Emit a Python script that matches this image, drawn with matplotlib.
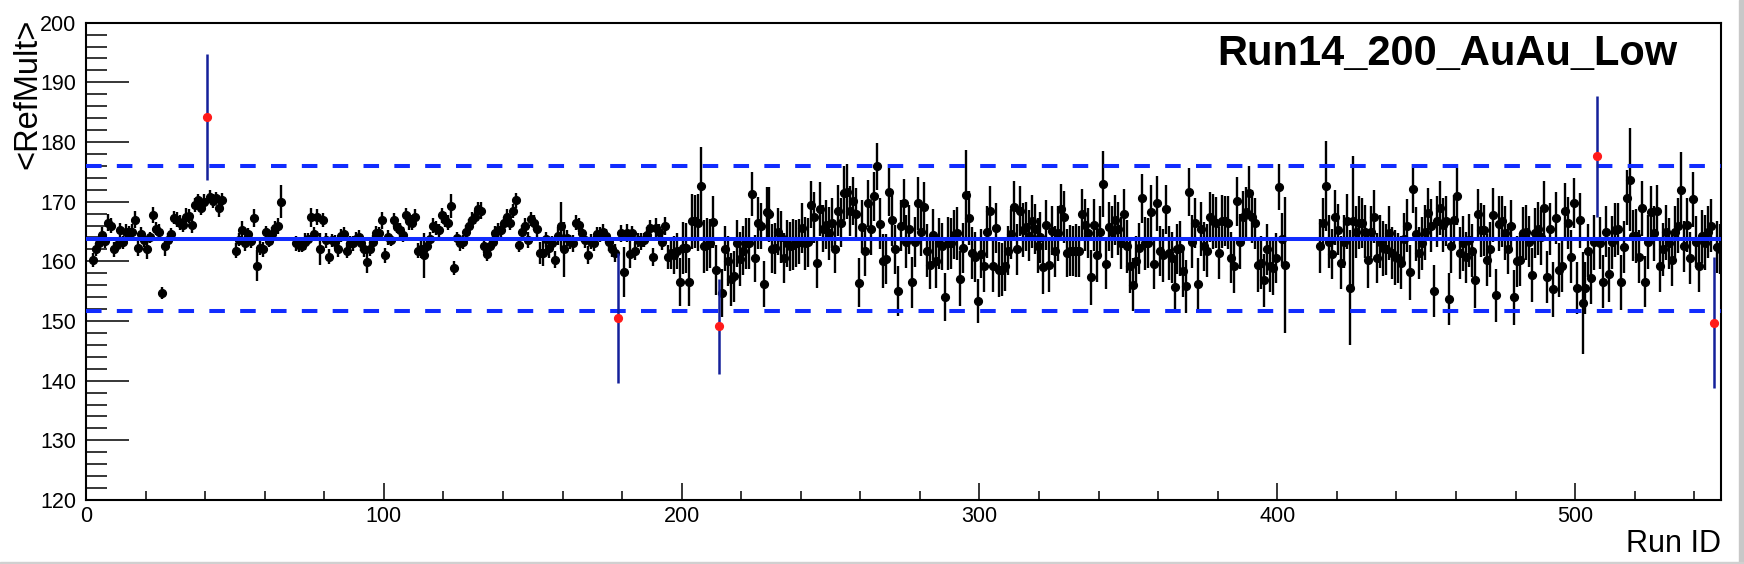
import numpy as np
import matplotlib
matplotlib.use("Agg")
import matplotlib.pyplot as plt
from matplotlib.patches import Rectangle

plt.rcParams['font.family'] = ['Liberation Sans', 'DejaVu Sans']
plt.rcParams['lines.scale_dashes'] = False

nan = float('nan')

# <RefMult> per run index (bins 0..548); nan = empty bin
ref_mult = (
    [nan, nan] +
    [160.2,162.0,163.0,164.5,163.4,166.5,166.0,162.0,162.8,165.2,
     163.2,165.0,164.9,165.0,167.0,162.2,164.6,163.5,162.0,164.0,
     167.8,165.5,165.0,154.7,162.5,163.6,164.6,167.3,167.0,166.5,
     166.1,167.5,167.6,166.1,169.4,170.2,169.0,169.9,184.2,170.8,
     170.1,170.6,169.0,170.2] +
    [nan]*4 +
    [161.8,163.6,165.3,163.0,164.6,163.4,167.2,159.3,162.2,162.0,
     164.9,163.4,164.6,165.6,165.9,170.0] +
    [nan]*4 +
    [163.0,162.8,162.6,163.3,163.7,167.4,164.6,167.4,162.1,166.9,
     163.5,160.8,163.5,163.3,162.1,164.3,164.6,161.8,163.1,163.0,
     163.8,164.1,163.0,162.1,159.9,162.1,163.3,164.7,164.7,166.9,
     161.0,164.0,163.5,166.9,165.8,165.2,164.5,167.8,166.7,166.5,
     167.4,161.8,162.0,161.0,162.6,163.7,166.0,165.6,165.2,167.7,
     167.0,166.5,169.3,158.9,163.9,163.0,163.3,164.9,166.0,167.0,
     167.4,168.8,168.5,162.6,161.3,162.5,163.3,164.7,165.2] +
    [165.3,166.4,167.5,166.5,168.4,170.2,162.7,164.9,165.9,163.6,
     167.1,166.5,165.4,161.4,161.4,163.7,162.2,163.0,160.3,164.2,
     166.0,162.0,163.9,163.3,163.0,166.5,166.1,164.7,163.6,161.0,
     163.3,163.0,164.6,164.5,165.0,164.2,163.2,162.1,161.4,150.5,
     164.7,158.2,164.7,161.3,164.7,161.8,163.6,163.3,163.6,164.5,
     165.6,160.8,165.6,165.0,163.3,166.0,160.7,161.4,161.0,161.8,
     156.5,162.2,162.2,156.5,166.7,166.7,166.5,172.7,162.5,162.8,
     163.0,166.6] +
    [158.6,149.1,154.7,162.1,160.0,157.0,157.5,163.0,160.4,161.8,
     163.0,163.0,171.3,160.5,166.4,165.9,156.2,168.3,167.9,162.1,
     162.2,165.0,164.1,160.5,163.0,162.5,162.8,163.0,163.3,165.6,
     163.0,163.2,169.5,167.4,159.7,168.8,165.5,166.1,164.7,166.5,
     162.0,168.5,166.5,171.5,171.7,168.5,170.1,168.0,156.4,165.8,
     161.8,169.7,165.5,170.9,175.9,166.3,160.1,160.4,171.6,167.0,
     162.0,155.1,166.0,169.8,163.3,165.4,156.5,163.3,169.7,164.9] +
    [169.1,161.8,159.4,164.5,160.0,163.0,162.5,154.0,163.0,163.0,
     164.5,164.7,157.1,162.2,171.1,167.3,161.4,160.8,153.3,161.3,
     159.3,164.9,168.5,159.3,165.6,158.6,158.6,159.3,161.8,164.6,
     169.1,162.0,168.5,165.2,165.8,164.3,166.7,165.4,162.6,164.0,
     159.0,166.1,159.4,165.1,161.7,164.7,168.8,167.4,161.4,161.8,
     161.7,161.8,161.7,168.0,166.1,164.7,157.3,166.1,161.1,165.0,
     173.0,159.6,165.8,164.9,166.9,165.5,163.1,168.0,162.5,159.3,
     156.1,160.0] +
    [162.2,170.6,163.0,163.1,168.3,159.6,169.7,161.8,161.0,168.7,
     161.4,160.6,155.7,162.1,162.2,158.3,155.8,171.6,163.3,166.4,
     156.2,165.4,162.5,161.8,167.4,166.7,166.5,161.4,166.7,166.7,
     166.5,160.6,159.2,170.1,163.3,167.5,168.2,171.5,167.5,166.4,
     159.4,159.8,156.8,162.0,159.2,158.9,160.6,172.5,163.7,159.4] +
    [nan]*11 +
    [162.6,166.4,172.6,163.3,161.3,167.4,165.3,159.8] +
    [163.3,166.7,155.6,166.7,164.9,166.5,166.5,165.0,160.2,165.0,
     167.5,160.6,163.3,162.2,162.0,164.7,161.4,160.7,160.6,159.8,
     163.8,166.0,158.2,172.2,164.6,161.4,163.0,164.9,168.1,166.0,
     155.0,166.7,168.9,166.1,166.7,153.7,162.5,166.9,170.9,161.4,
     163.0,160.7,163.5,161.8,156.8,168.0,165.2,165.2,160.2,162.0,
     167.8,154.3,166.3,166.7,164.7,162.0,165.9,154.0,160.0,160.3,
     164.7,164.9,163.3,157.7,164.7,165.5,164.0,168.9,157.4,165.4] +
    [155.3,167.3,158.6,159.2,168.5,166.4,160.8,169.8,155.5,166.9,
     153.0,155.5,161.8,157.2,163.2,177.6,163.1,156.6,165.0,157.8,
     163.2,165.3,165.4,156.5,162.4,170.7,173.7,164.3,164.3,160.8,
     168.9,156.6,163.3,168.2,164.7,168.5,159.3,162.0,164.9,163.0,
     160.3,164.9,166.0,171.9,162.5,166.1,160.6,170.4,163.3,159.3,
     164.2,163.1,164.9,166.0,149.7,162.4,162.1]
)

ref_err = (
    [0, 0] +
    [1.2,1.1,1.0,1.3,1.1,1.4,1.3,1.2,1.0,1.2,
     1.1,1.3,1.0,1.2,1.4,1.3,1.2,1.1,1.6,1.0,
     1.3,1.1,1.2,1.0,1.6,1.2,1.0,1.1,1.2,1.3,
     1.1,1.4,1.2,1.3,1.2,1.1,1.3,1.4,10.6,1.1,
     1.2,1.0,1.5,1.2] +
    [0]*4 +
    [1.2,1.1,1.4,1.2,1.0,1.1,1.5,2.6,1.2,1.3,
     1.1,1.0,1.2,1.1,1.3,2.8] +
    [0]*4 +
    [1.2,1.3,1.1,1.4,1.0,1.6,1.2,1.3,2.7,1.2,
     1.3,1.2,1.1,1.2,1.3,1.1,1.2,1.3,1.1,1.2,
     1.1,1.2,1.3,1.4,1.8,1.2,1.1,1.3,1.0,1.4,
     1.2,1.3,1.0,1.2,1.1,1.3,1.2,1.1,1.4,1.2,
     1.3,1.2,1.5,3.8,1.1,1.2,1.3,1.2,1.1,1.2,
     1.3,1.2,2.0,1.2,1.1,1.3,1.2,1.2,1.1,1.3,
     1.2,1.1,1.4,1.2,1.3,1.2,1.1,1.2,1.3] +
    [1.2,1.1,1.3,1.2,1.2,1.3,1.1,1.2,1.3,1.4,
     1.2,1.3,1.4,1.9,2.1,1.3,1.6,1.2,1.4,1.5,
     4.0,4.6,1.3,1.2,1.4,1.3,1.2,1.4,1.3,1.5,
     1.3,1.2,1.1,1.3,1.2,1.2,1.4,1.3,1.5,10.9,
     1.4,4.2,1.5,2.4,1.3,1.5,1.2,1.4,1.2,1.3,
     1.4,1.5,1.6,1.3,1.4,1.5,2.0,2.6,3.2,3.0,
     4.0,4.4,4.2,4.0,4.6,4.4,4.8,6.5,4.4,4.5,
     4.1,4.3] +
    [4.2,8.0,4.0,3.8,4.2,4.4,4.3,3.9,4.5,4.1,
     4.3,4.2,3.7,4.0,4.4,3.9,3.8,4.2,4.6,4.1,
     4.3,4.0,4.4,4.2,3.9,4.1,4.3,4.0,3.8,4.2,
     4.4,4.1,3.9,4.3,4.2,4.5,4.0,4.1,4.4,4.2,
     4.0,4.3,4.1,4.5,4.6,4.2,4.0,4.3,4.1,4.4,
     4.2,4.0,4.4,4.1,3.9,4.3,4.5,4.2,4.0,4.4,
     4.1,4.2,4.3,4.0,4.4,4.1,4.3,4.2,4.5,4.0] +
    [4.2,4.4,4.1,4.3,4.5,4.2,4.0,4.0,4.4,4.3,
     4.1,4.4,4.6,4.2,7.6,4.5,4.3,4.2,3.7,4.1,
     4.5,4.3,4.1,4.4,4.2,4.6,4.4,4.3,4.1,4.2,
     4.4,4.3,4.2,4.5,4.1,4.3,4.4,4.2,4.6,4.3,
     4.4,4.2,4.5,4.1,4.3,4.6,4.2,4.4,4.1,4.3,
     4.2,4.5,4.3,4.1,4.4,4.2,4.6,4.3,4.5,4.2,
     5.5,4.3,4.1,4.4,4.2,4.5,4.3,4.1,4.4,4.6,
     4.5,4.3] +
    [4.3,4.1,4.4,4.2,4.5,4.3,4.6,4.2,4.4,4.1,
     4.5,4.3,4.4,4.2,4.6,4.3,4.5,4.0,4.4,4.2,
     4.3,4.5,4.1,4.4,4.2,4.6,4.3,4.4,4.5,4.2,
     4.4,4.3,4.5,4.1,4.6,4.3,4.2,4.4,4.5,4.3,
     4.6,4.4,4.5,4.3,4.4,4.6,4.2,3.9,4.4,11.4] +
    [0]*11 +
    [4.5,4.3,7.5,4.4,4.2,4.6,4.3,4.5] +
    [4.4,4.6,9.6,11.0,4.3,4.5,4.2,4.4,4.6,4.3,
     4.5,4.2,4.4,4.6,4.3,4.5,4.4,4.6,4.2,4.5,
     4.3,4.4,4.6,4.1,4.5,4.3,4.4,4.6,4.2,4.5,
     4.4,4.3,4.5,4.6,4.2,4.4,4.5,4.3,4.8,4.4,
     4.6,4.3,4.5,4.4,4.6,4.2,4.5,4.3,4.4,4.6,
     4.5,4.4,4.6,4.3,4.5,4.2,4.4,4.6,4.3,4.5,
     4.4,4.6,4.3,4.5,4.2,4.4,4.6,4.5,4.3,4.4] +
    [4.6,4.4,4.5,4.3,4.6,4.4,4.5,4.2,4.4,4.6,
     8.5,4.4,4.5,4.3,4.6,10.1,4.4,4.5,4.3,4.6,
     4.4,4.5,4.3,4.6,4.4,4.6,8.6,4.3,4.5,4.4,
     4.6,4.3,4.5,4.4,4.6,4.3,4.5,4.4,4.6,4.3,
     4.5,4.4,4.6,6.5,4.3,4.5,4.4,4.6,4.3,4.5,
     4.4,4.6,4.3,4.5,11.0,4.4,4.2]
)

mean_val = 163.8
band_hi = 176.0
band_lo = 151.6
title = "Run14_200_AuAu_Low"
x_title = "Run ID"
y_title = "<RefMult>"

vals = np.array(ref_mult, dtype=float)
errs = np.array(ref_err[:len(vals)] + [0] * max(0, len(vals) - len(ref_err)), dtype=float)
runs = np.arange(len(vals)) + 0.5
valid = ~np.isnan(vals)
outlier = valid & ((vals > band_hi) | (vals < band_lo))
normal = valid & ~outlier

W, H = 1744, 564
fig = plt.figure(figsize=(W / 100, H / 100), dpi=100)
ax = fig.add_axes([86 / W, 1 - 500 / H, (1721 - 86) / W, (500 - 22.7) / H])

ax.errorbar(runs[normal], vals[normal], yerr=errs[normal], fmt='o', color='black',
            ms=5.6, elinewidth=1.7, capsize=0, zorder=2)

blue = '#112cff'
ax.axhline(mean_val, color=blue, lw=2.9, zorder=3)
for yv in (band_hi, band_lo):
    ax.axhline(yv, color=blue, lw=2.9, linestyle=(0, (11.2, 11.0)), zorder=3)

ax.errorbar(runs[outlier], vals[outlier], yerr=errs[outlier], fmt='o',
            color='#ff1a1a', ecolor='#14209a', ms=5.6, elinewidth=1.8,
            capsize=0, zorder=4)

ax.set_xlim(0, 549)
ax.set_ylim(120, 200)
ax.set_xticks(np.arange(0, 501, 100))
ax.set_xticks(np.arange(0, 549, 20), minor=True)
ax.set_yticks(np.arange(120, 201, 10))
ax.set_yticks(np.arange(120, 201, 2), minor=True)
ax.tick_params(which='both', direction='in', top=False, right=False, width=1.1,
               labelsize=15.5, colors='black')
ax.tick_params(axis='x', which='major', length=12, pad=4)
ax.tick_params(axis='x', which='minor', length=6.5)
ax.tick_params(axis='y', which='major', length=31, pad=7)
ax.tick_params(axis='y', which='minor', length=15)
for s in ax.spines.values():
    s.set_linewidth(1.5)

fig.text(1677 / W, 1 - 65 / H, title, ha='right', va='baseline',
         fontsize=30, fontweight='bold')
fig.text(28 / W, 1 - 19 / H, y_title, rotation=90, ha='center', va='top',
         fontsize=23.5)
fig.text(1721 / W, 1 - 544 / H, x_title, ha='right', va='center', fontsize=22)

fig.patches.append(Rectangle((1739 / W, 0), 5 / W, 1, transform=fig.transFigure,
                             color='#c8c8c8', zorder=0))
fig.patches.append(Rectangle((0, 0), 1, 2 / H, transform=fig.transFigure,
                             color='#d0d0d0', zorder=0))

fig.savefig('out.png', dpi=100)
